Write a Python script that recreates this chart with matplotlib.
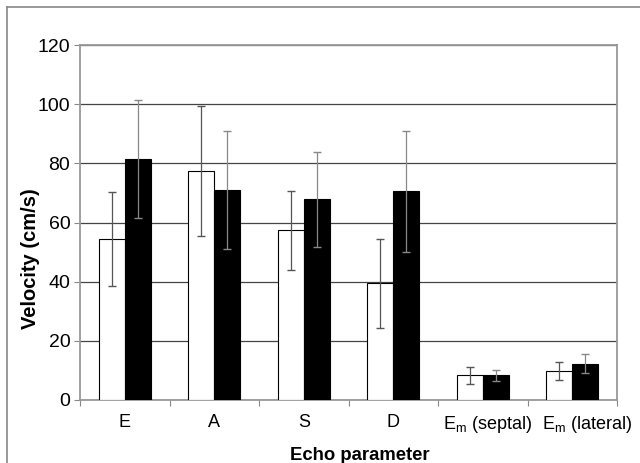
import matplotlib
matplotlib.use("Agg")
import matplotlib.pyplot as plt
import numpy as np
from matplotlib.lines import Line2D
from matplotlib.transforms import ScaledTranslation

plt.rcParams['font.family'] = ['Liberation Sans', 'DejaVu Sans']
plt.rcParams['mathtext.fontset'] = 'custom'
plt.rcParams['mathtext.rm'] = 'Liberation Sans'

categories = ['E', 'A', 'S', 'D', r'E$_\mathrm{m}$ (septal)', r'E$_\mathrm{m}$ (lateral)']
white_vals = [54.4, 77.5, 57.3, 39.5, 8.3, 9.8]
white_err = [16.0, 22.0, 13.5, 15.0, 3.0, 3.1]
black_vals = [81.5, 71.0, 67.8, 70.5, 8.3, 12.3]
black_err = [20.0, 20.0, 16.0, 20.5, 1.9, 3.1]
yticks = [0, 20, 40, 60, 80, 100, 120]

fig = plt.figure(figsize=(6.4, 4.63), dpi=100)
W, H = 640, 463
ax = fig.add_axes([80 / W, 1 - 400 / H, (617 - 80) / W, (400 - 45) / H])

x = np.arange(len(categories))
bw = 0.29
ax.bar(x - bw / 2, white_vals, bw, color='white', edgecolor='black', linewidth=0.8, zorder=3)
ax.bar(x + bw / 2, black_vals, bw, color='black', edgecolor='black', linewidth=0.8, zorder=3)
ax.errorbar(x - bw / 2, white_vals, yerr=white_err, fmt='none', ecolor='#555555',
            elinewidth=0.9, capsize=3, capthick=1.0, zorder=4)
ax.errorbar(x + bw / 2, black_vals, yerr=black_err, fmt='none', ecolor='#888888',
            elinewidth=0.9, capsize=3, capthick=1.0, zorder=4)

ax.set_xlim(-0.5, len(categories) - 0.5)
ax.set_ylim(0, 120)
ax.set_yticks(yticks)
ax.set_yticklabels([str(v) for v in yticks], fontsize=14)
ax.yaxis.grid(True, color='#444444', linewidth=0.9, zorder=0)
ax.set_axisbelow(True)

ax.set_xticks(np.arange(len(categories) + 1) - 0.5)
ax.set_xticklabels([])
ax.set_xticks(x, minor=True)
labels = ax.set_xticklabels(categories, minor=True, fontsize=13)
ax.tick_params(axis='x', which='minor', length=0, pad=10)
ax.tick_params(axis='x', which='major', length=4, color='#888888', direction='out')
ax.tick_params(axis='y', length=4, color='#888888', direction='out', pad=3)

# nudge the two long labels right as in the reference
for lab, dx in zip(labels[4:], [5, 15]):
    lab.set_transform(lab.get_transform() + ScaledTranslation(dx / 100, 0, fig.dpi_scale_trans))

for s in ax.spines.values():
    s.set_color('#999999')
    s.set_linewidth(1.3)

fig.text(30 / W, 1 - 259 / H, 'Velocity (cm/s)', rotation=90, ha='center', va='center',
         fontsize=14.5, fontweight='bold')
fig.text(360 / W, 1 - 455 / H, 'Echo parameter', ha='center', va='center',
         fontsize=13.3, fontweight='bold')

# outer frame (left and top)
fig.add_artist(Line2D([7 / W, 7 / W], [0, 1 - 7 / H], transform=fig.transFigure, color='#888888', lw=1.2))
fig.add_artist(Line2D([7 / W, 1], [1 - 7 / H, 1 - 7 / H], transform=fig.transFigure, color='#888888', lw=1.2))

fig.savefig('out.png', dpi=100)
